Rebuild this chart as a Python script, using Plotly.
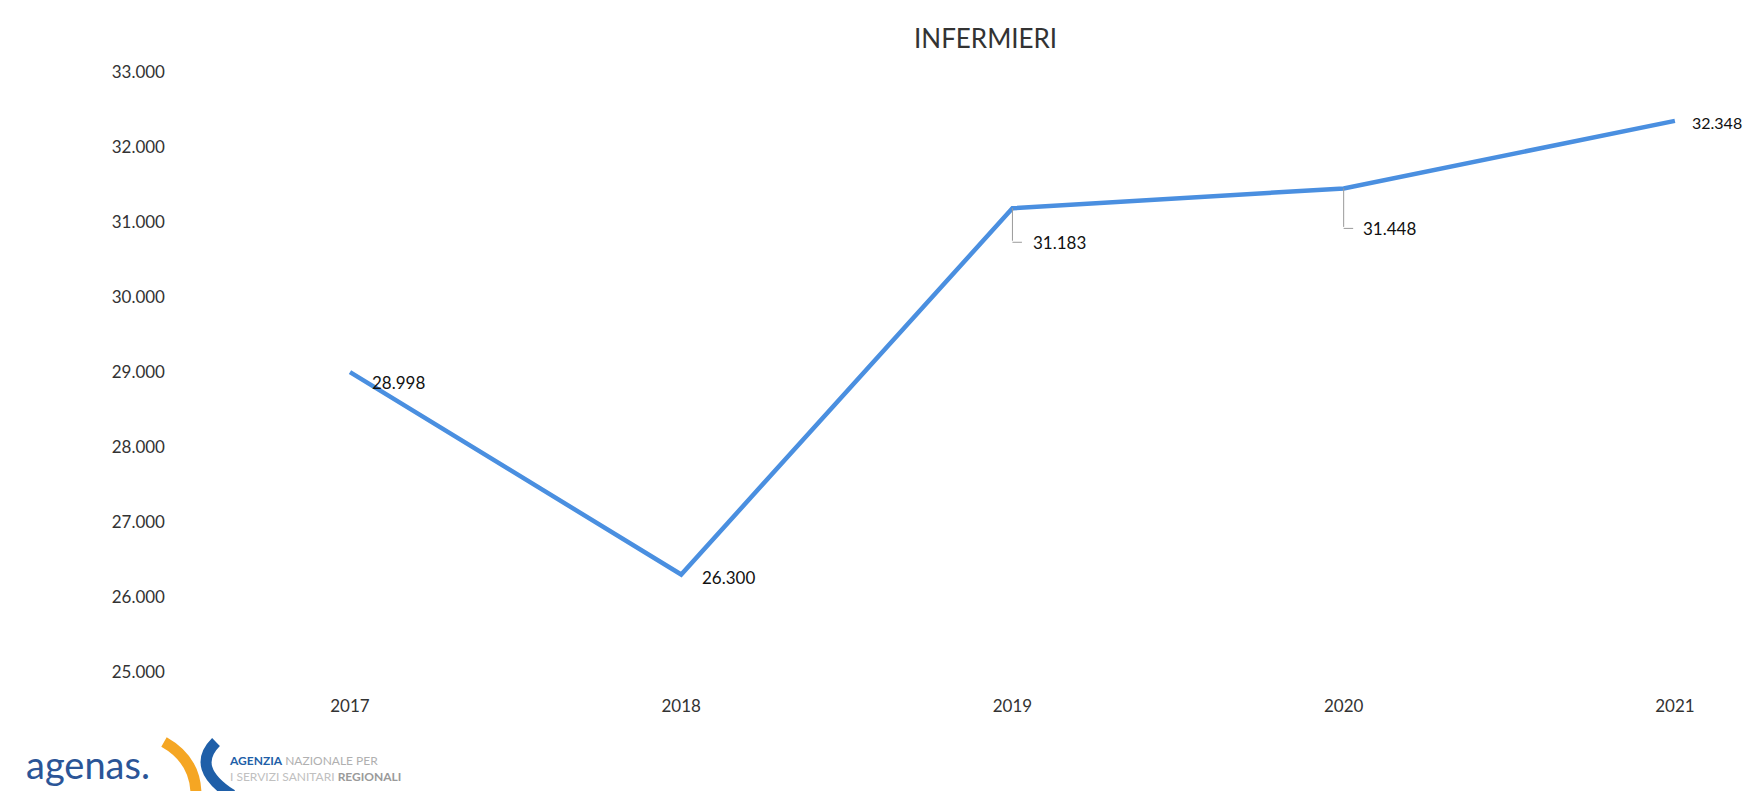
import plotly.graph_objects as go

# ---- data ----
years = [2017, 2018, 2019, 2020, 2021]
nurses = [28998, 26300, 31183, 31448, 32348]
value_labels = ["28.998", "26.300", "31.183", "31.448", "32.348"]
y_ticks = [25000, 26000, 27000, 28000, 29000, 30000, 31000, 32000, 33000]
y_tick_labels = ["25.000", "26.000", "27.000", "28.000", "29.000",
                 "30.000", "31.000", "32.000", "33.000"]
x_tick_labels = ["2017", "2018", "2019", "2020", "2021"]
title_text = "INFERMIERI"

OFF = 8  # page body margin
W, H = 1751 - 2 * OFF, 799 - 2 * OFF
ML, MT = 182, 64
PW, PH = 1521, 600
MR = W - ML - PW
MB = H - MT - PH

def px(x):  # page pixel -> paper
    return (x - OFF - ML) / PW

def py(y):
    return (MT + PH - (y - OFF)) / PH

LINE = "#4a8fe0"
FONT = "Lato"

fig = go.Figure()
fig.add_trace(go.Scatter(
    x=years, y=nurses, mode="lines",
    line=dict(color=LINE, width=4.5),
    hoverinfo="skip", showlegend=False, cliponaxis=False,
))

annots = []
offsets = [(20, 10, False, 17), (19, 3, False, 17), (19, 34, True, 17),
           (17, 40, True, 17), (15, 2, False, 16)]
for x, y, lab, (dx, dy, leader, fs) in zip(years, nurses, value_labels, offsets):
    annots.append(dict(
        x=x, y=y, xref="x", yref="y", text=lab, showarrow=False,
        xanchor="left", yanchor="middle", xshift=dx, yshift=-dy,
        font=dict(family=FONT, size=fs, color="#111111"),
    ))
    if leader:
        annots.append(dict(
            x=x, y=y, xref="x", yref="y", text="", showarrow=True,
            arrowhead=0, arrowwidth=1, arrowcolor="#9a9a9a",
            ax=0, ay=dy, standoff=0, startstandoff=0,
        ))
        annots.append(dict(
            x=x, y=y, xref="x", yref="y", text="", showarrow=True,
            arrowhead=0, arrowwidth=1, arrowcolor="#9a9a9a",
            ax=11, ay=0, yshift=-dy, standoff=0, startstandoff=0,
        ))

annots.append(dict(
    x=px(985), y=py(38), xref="paper", yref="paper", text=title_text,
    showarrow=False, xanchor="center", yanchor="middle",
    font=dict(family=FONT, size=26, color="#333333"),
))

annots.append(dict(
    x=px(24), y=py(764), xref="paper", yref="paper", text="agenas.",
    showarrow=False, xanchor="left", yanchor="middle",
    font=dict(family=FONT, size=38, color="#2b5597"),
))
annots.append(dict(
    x=px(227), y=py(768), xref="paper", yref="paper",
    text=("<b><span style='color:#1f5fa8'>AGENZIA</span></b> "
          "<span style='color:#b0b0b0'>NAZIONALE PER</span><br>"
          "<span style='color:#c0c0c0'>I SERVIZI SANITARI</span> "
          "<b><span style='color:#9a9a9a'>REGIONALI</span></b>"),
    showarrow=False, xanchor="left", yanchor="middle", align="left",
    font=dict(family=FONT, size=12, color="#999999"),
))

def path(pts):
    (x0, y0), (cx, cy), (x1, y1) = pts
    return f"M {px(x0)},{py(y0)} Q {px(cx)},{py(cy)} {px(x1)},{py(y1)}"

shapes = [
    dict(type="path", xref="paper", yref="paper",
         path=path([(164, 742), (196, 760), (196, 795)]),
         line=dict(color="#f5a623", width=11)),
    dict(type="path", xref="paper", yref="paper",
         path=path([(216, 742), (190, 768), (232, 795)]),
         line=dict(color="#1f5fa8", width=11)),
]

fig.update_layout(
    width=W, height=H,
    margin=dict(l=ML, r=MR, t=MT, b=MB, autoexpand=False),
    paper_bgcolor="white", plot_bgcolor="white",
    annotations=annots, shapes=shapes,
    xaxis=dict(
        range=[2016.517, 2021.109], tickvals=years, ticktext=x_tick_labels,
        showgrid=False, zeroline=False, showline=False, ticks="",
        ticklabelstandoff=22, automargin=False,
        tickfont=dict(family=FONT, size=17, color="#333333"),
    ),
    yaxis=dict(
        range=[25000, 33000], tickvals=y_ticks, ticktext=y_tick_labels,
        showgrid=False, zeroline=False, showline=False, ticks="",
        ticklabelstandoff=24, automargin=False,
        tickfont=dict(family=FONT, size=17, color="#333333"),
    ),
)

fig.write_html("out.html")
